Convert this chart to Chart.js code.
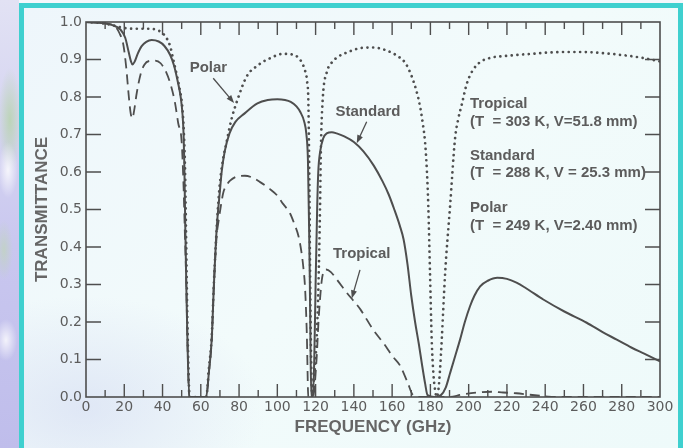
<!DOCTYPE html>
<html>
<head>
<meta charset="utf-8">
<script src="https://cdn.jsdelivr.net/npm/chart.js@4/dist/chart.umd.min.js"></script>
<style>
  html, body { margin: 0; padding: 0; }
  body {
    width: 683px; height: 448px; overflow: hidden; position: relative;
    background: #f4f7fb;
  }
  #sat {
    position: absolute; left: 0; top: 0; width: 19px; height: 448px;
    background:
      radial-gradient(ellipse 14px 40px at 8px 170px, rgba(255,255,255,0.8), rgba(255,255,255,0) 70%),
      radial-gradient(ellipse 16px 30px at 6px 340px, rgba(255,255,255,0.8), rgba(255,255,255,0) 70%),
      radial-gradient(ellipse 16px 70px at 10px 120px, rgba(180,212,165,0.75), rgba(180,212,165,0) 75%),
      radial-gradient(ellipse 12px 40px at 4px 250px, rgba(190,216,175,0.6), rgba(190,216,175,0) 75%),
      linear-gradient(#e2e2f4, #c9c7ef 55%, #bfbdeb);
  }
  #frame {
    position: absolute; left: 19px; top: 3px; width: 654px; height: 445px;
    border-left: 5px solid #3fd0cf; border-top: 5px solid #3fd0cf; border-right: 5px solid #3fd0cf;
    background:
      radial-gradient(ellipse 260px 160px at 60px 400px, rgba(205,212,240,0.5), rgba(205,212,240,0) 70%),
      linear-gradient(135deg, #eef6fb, #f2fbfb 50%, #eefafa);
  }
  #c { position: absolute; left: 0; top: 0; }
</style>
</head>
<body>
<div id="sat"></div>
<div id="frame"></div>
<canvas id="c" width="683" height="448"></canvas>
<script>
// frequency (GHz) and transmittance
const polarFreq = [0, 8, 15, 20, 25, 32, 37, 40, 42, 44, 45.6, 47.4, 49, 50.2, 51.2, 51.8, 52.4, 53.1, 54.2,
  62.8, 64.3, 65.7, 66.9, 68.3, 69.8, 71.5, 73.5, 76, 79, 84, 90, 96, 103, 108, 111, 113, 114.5, 115.6, 116.2, 116.7, 117.1, 117.6, 118.2,
  119, 120.5, 121.5, 122.3, 122.8, 123.8, 125.8, 129, 132, 137, 143, 150, 156, 161, 164, 167, 170, 172.5, 174.6, 176, 177.2, 178.2, 178.9,
  179.8, 180.7, 181.6, 182.4, 183.3, 184.2, 185, 185.9, 187.7, 190.3, 192.9, 194.5, 196.4, 199, 202, 206, 212, 220, 230, 240, 250, 260,
  270, 280, 290, 300];
const polarT = [1.0, 0.997, 0.99, 0.984, 0.982, 0.982, 0.979, 0.97, 0.958, 0.935, 0.9, 0.86, 0.82, 0.78, 0.7, 0.6, 0.4, 0.18, 0,
  0, 0.08, 0.16, 0.31, 0.45, 0.56, 0.63, 0.68, 0.74, 0.79, 0.855, 0.885, 0.903, 0.915, 0.913, 0.905, 0.89, 0.87, 0.84, 0.79, 0.6, 0.35, 0.12, 0,
  0.04, 0.15, 0.3, 0.5, 0.67, 0.8, 0.865, 0.895, 0.908, 0.92, 0.93, 0.932, 0.926, 0.915, 0.905, 0.89, 0.858, 0.82, 0.775, 0.73, 0.68, 0.6, 0.51,
  0.33, 0.15, 0.06, 0.02, 0, 0.02, 0.07, 0.15, 0.33, 0.51, 0.69, 0.74, 0.78, 0.835, 0.87, 0.893, 0.905, 0.91, 0.914, 0.918, 0.92, 0.92,
  0.917, 0.912, 0.905, 0.895];

const standardFreq = [0, 8, 13, 18, 20.5, 22.3, 23.5, 24.3, 25.3, 27, 29, 31.5, 34.3, 38, 41, 44, 46, 48, 49.6, 50.5, 51, 51.4, 51.9, 52.4, 53, 54,
  62.8, 64.3, 65.7, 66.9, 68.3, 70, 70.9, 72.5, 75, 78, 82.6, 89.6, 95, 100, 104, 107, 110, 112, 114, 115.2, 116, 116.6, 117, 117.4, 117.8,
  118.6, 119.3, 120, 120.8, 121.4, 122.4, 124, 125.8, 128.5, 131, 135, 140, 145, 150.4, 155, 158.2, 161, 164, 166, 168, 170, 172, 174,
  175.5, 177.2, 178.5, 182, 185.5, 188, 190.3, 193, 195.5, 198, 200.7, 203, 206, 210, 215, 220, 225, 230, 239, 250, 261.7, 270, 277.4,
  285, 292, 300];
const standardT = [1.0, 0.997, 0.993, 0.98, 0.958, 0.92, 0.895, 0.887, 0.893, 0.915, 0.935, 0.947, 0.952, 0.948, 0.936, 0.912, 0.884, 0.84, 0.796, 0.75, 0.7, 0.617, 0.45, 0.305, 0.153, 0,
  0, 0.07, 0.153, 0.305, 0.448, 0.55, 0.6, 0.655, 0.703, 0.733, 0.755, 0.783, 0.792, 0.794, 0.792, 0.787, 0.775, 0.76, 0.735, 0.7, 0.63, 0.45, 0.3, 0.1, 0,
  0, 0.1, 0.3, 0.5, 0.6, 0.655, 0.69, 0.703, 0.706, 0.703, 0.695, 0.68, 0.655, 0.617, 0.575, 0.54, 0.502, 0.457, 0.42, 0.355, 0.27, 0.2, 0.14,
  0.09, 0.037, 0.005, 0, 0.005, 0.025, 0.064, 0.11, 0.153, 0.2, 0.242, 0.27, 0.295, 0.31, 0.318, 0.315, 0.305, 0.29, 0.26, 0.228, 0.198, 0.173, 0.153,
  0.132, 0.115, 0.095];

const tropicalFreq = [0, 8, 14.8, 17.5, 19.5, 21, 22.4, 23.4, 24.2, 25.2, 26.5, 28.5, 30.5, 33, 36, 39, 42, 44.3, 46.5, 48.2, 50, 51, 51.6, 52.4, 53, 54,
  62.8, 64.3, 65.7, 66.9, 68.3, 69.2, 70.5, 71.8, 73.5, 75.3, 79.6, 83, 87, 91, 96, 100, 103, 106.6, 109, 111, 112.5, 113.5, 114.5, 115.4, 116.2,
  118.6, 120.5, 121.5, 122.3, 123.2, 124, 125.5, 128, 131, 136, 143.5, 150, 156, 160, 164, 168, 171, 176,
  190, 196, 205, 212, 218, 225, 232, 240, 245, 300];
const tropicalT = [1.0, 0.997, 0.99, 0.97, 0.94, 0.88, 0.8, 0.755, 0.743, 0.765, 0.81, 0.86, 0.886, 0.896, 0.897, 0.89, 0.865, 0.832, 0.785, 0.73, 0.68, 0.56, 0.45, 0.305, 0.153, 0,
  0, 0.07, 0.153, 0.305, 0.43, 0.466, 0.51, 0.546, 0.565, 0.577, 0.589, 0.59, 0.585, 0.573, 0.555, 0.537, 0.515, 0.49, 0.46, 0.43, 0.39, 0.35, 0.29, 0.17, 0,
  0, 0.1, 0.2, 0.26, 0.31, 0.332, 0.34, 0.333, 0.314, 0.28, 0.233, 0.18, 0.14, 0.11, 0.085, 0.04, 0.005, 0,
  0, 0.006, 0.012, 0.014, 0.012, 0.01, 0.006, 0.002, 0, 0];

const xTicks = [0, 20, 40, 60, 80, 100, 120, 140, 160, 180, 200, 220, 240, 260, 280, 300];
const yTicks = ['0.0', '0.1', '0.2', '0.3', '0.4', '0.5', '0.6', '0.7', '0.8', '0.9', '1.0'];

const ink = '#4e4e4e';
const textGray = '#5c5c5c';
const family = "'Liberation Sans', Arial, sans-serif";
const tickFamily = "'DejaVu Sans', sans-serif";

const toPoints = (fs, ts) => fs.map((f, i) => ({ x: f, y: ts[i] }));

// labels placed in data coordinates
const notes = [
  { text: 'Polar', f: 64, t: 0.877, align: 'center' },
  { text: 'Standard', f: 147.4, t: 0.761, align: 'center' },
  { text: 'Tropical', f: 144.1, t: 0.383, align: 'center' },
  { text: 'Tropical', f: 200.7, t: 0.781, align: 'left' },
  { text: '(T  = 303 K, V=51.8 mm)', f: 200.7, t: 0.734, align: 'left' },
  { text: 'Standard', f: 200.7, t: 0.643, align: 'left' },
  { text: '(T  = 288 K, V = 25.3 mm)', f: 200.7, t: 0.597, align: 'left' },
  { text: 'Polar', f: 200.7, t: 0.505, align: 'left' },
  { text: '(T  = 249 K, V=2.40 mm)', f: 200.7, t: 0.457, align: 'left' }
];
const arrows = [
  { f0: 66.5, t0: 0.85, f1: 77.4, t1: 0.784 },
  { f0: 146.7, t0: 0.734, f1: 141.5, t1: 0.677 },
  { f0: 143.2, t0: 0.339, f1: 138.9, t1: 0.263 }
];

const frameTicks = {
  id: 'frameTicks',
  afterDraw(chart) {
    const { ctx, chartArea: a, scales: { x, y } } = chart;
    ctx.save();
    ctx.strokeStyle = ink;
    ctx.lineWidth = 1.6;
    ctx.strokeRect(a.left, a.top, a.right - a.left, a.bottom - a.top);
    ctx.lineWidth = 1.4;
    ctx.beginPath();
    for (let v = 10; v < 300; v += 10) {
      const px = x.getPixelForValue(v);
      const len = v % 20 === 0 ? 13 : 7;
      ctx.moveTo(px, a.bottom); ctx.lineTo(px, a.bottom - len);
      ctx.moveTo(px, a.top); ctx.lineTo(px, a.top + len);
    }
    for (let v = 1; v < 10; v++) {
      const py = y.getPixelForValue(v / 10);
      ctx.moveTo(a.left, py); ctx.lineTo(a.left + 15, py);
      ctx.moveTo(a.right, py); ctx.lineTo(a.right - 15, py);
    }
    ctx.stroke();

    // curve labels
    ctx.fillStyle = textGray;
    ctx.font = 'bold 15px ' + family;
    ctx.textBaseline = 'middle';
    notes.forEach(n => {
      ctx.textAlign = n.align;
      ctx.fillText(n.text, x.getPixelForValue(n.f), y.getPixelForValue(n.t));
    });

    // arrows
    ctx.strokeStyle = ink;
    ctx.fillStyle = ink;
    ctx.lineWidth = 1.3;
    arrows.forEach(ar => {
      const x0 = x.getPixelForValue(ar.f0), y0 = y.getPixelForValue(ar.t0);
      const x1 = x.getPixelForValue(ar.f1), y1 = y.getPixelForValue(ar.t1);
      const ang = Math.atan2(y1 - y0, x1 - x0);
      ctx.beginPath();
      ctx.moveTo(x0, y0);
      ctx.lineTo(x1 - 6 * Math.cos(ang), y1 - 6 * Math.sin(ang));
      ctx.stroke();
      ctx.beginPath();
      ctx.moveTo(x1, y1);
      ctx.lineTo(x1 - 8 * Math.cos(ang) + 3 * Math.sin(ang), y1 - 8 * Math.sin(ang) - 3 * Math.cos(ang));
      ctx.lineTo(x1 - 8 * Math.cos(ang) - 3 * Math.sin(ang), y1 - 8 * Math.sin(ang) + 3 * Math.cos(ang));
      ctx.closePath();
      ctx.fill();
    });
    ctx.restore();
  }
};

new Chart(document.getElementById('c'), {
  type: 'scatter',
  data: {
    datasets: [
      {
        label: 'Polar',
        data: toPoints(polarFreq, polarT),
        showLine: true,
        borderColor: ink,
        borderWidth: 2.7,
        borderDash: [0.01, 5.7],
        borderCapStyle: 'round',
        pointRadius: 0,
        cubicInterpolationMode: 'monotone'
      },
      {
        label: 'Standard',
        data: toPoints(standardFreq, standardT),
        showLine: true,
        borderColor: ink,
        borderWidth: 2,
        pointRadius: 0,
        cubicInterpolationMode: 'monotone'
      },
      {
        label: 'Tropical',
        data: toPoints(tropicalFreq, tropicalT),
        showLine: true,
        borderColor: ink,
        borderWidth: 1.8,
        borderDash: [10, 6],
        pointRadius: 0,
        cubicInterpolationMode: 'monotone'
      }
    ]
  },
  options: {
    responsive: false,
    animation: false,
    events: [],
    layout: { padding: { left: 0, top: 22, right: 23, bottom: 0 } },
    plugins: { legend: { display: false }, tooltip: { enabled: false } },
    scales: {
      x: {
        type: 'linear',
        min: 0,
        max: 300,
        afterBuildTicks: s => { s.ticks = xTicks.map(v => ({ value: v })); },
        afterFit: s => { s.height = 51; },
        grid: { display: false, drawTicks: false },
        border: { display: false },
        ticks: { color: textGray, font: { size: 14, family: tickFamily }, padding: 2, maxRotation: 0 },
        title: {
          display: true,
          text: 'FREQUENCY (GHz)',
          color: '#666',
          font: { size: 17, weight: 'bold', family },
          padding: { top: 0, bottom: 10 }
        }
      },
      y: {
        min: 0,
        max: 1,
        afterBuildTicks: s => { s.ticks = yTicks.map(v => ({ value: parseFloat(v) })); },
        afterFit: s => { s.width = 86; },
        grid: { display: false, drawTicks: false },
        border: { display: false },
        ticks: {
          color: textGray, font: { size: 14, family: tickFamily }, padding: 4,
          callback: v => yTicks[Math.round(v * 10)]
        },
        title: {
          display: true,
          text: 'TRANSMITTANCE',
          color: '#666',
          font: { size: 17, weight: 'bold', family },
          padding: { top: 32, bottom: 0 }
        }
      }
    }
  },
  plugins: [frameTicks]
});
</script>
</body>
</html>
